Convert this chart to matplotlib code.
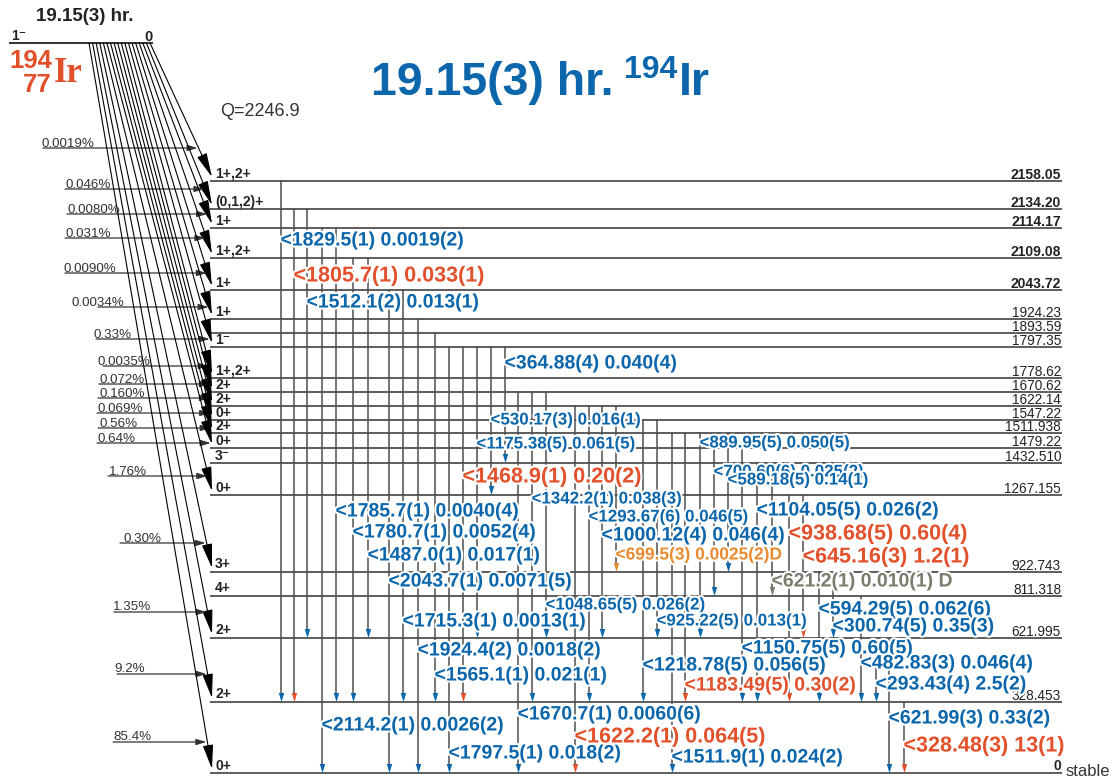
import matplotlib
matplotlib.use("Agg")
import matplotlib.pyplot as plt
import matplotlib.patheffects as pe
from matplotlib.path import Path
import numpy as np

plt.rcParams['font.family'] = ['Liberation Sans', 'DejaVu Sans']

# ---------------- data ----------------
level_energy = [2158.05, 2134.20, 2114.17, 2109.08, 2043.72, 1924.23, 1893.59, 1797.35,
                1778.62, 1670.62, 1622.14, 1547.22, 1511.938, 1479.22, 1432.510, 1267.155,
                922.743, 811.318, 621.995, 328.453, 0.0]
level_text = ["2158.05", "2134.20", "2114.17", "2109.08", "2043.72", "1924.23", "1893.59", "1797.35",
              "1778.62", "1670.62", "1622.14", "1547.22", "1511.938", "1479.22", "1432.510", "1267.155",
              "922.743", "811.318", "621.995", "328.453", "0"]
level_spin = ["1+,2+", "(0,1,2)+", "1+", "1+,2+", "1+", "1+", "", "1\u207b",
              "1+,2+", "2+", "2+", "0+", "2+", "0+", "3\u207b", "0+",
              "3+", "4+", "2+", "2+", "0+"]

beta_level = [2158.05, 2134.20, 2114.17, 2109.08, 2043.72, 1924.23, 1797.35, 1778.62, 1670.62,
              1622.14, 1547.22, 1511.938, 1479.22, 1267.155, 922.743, 621.995, 328.453, 0.0]
beta_text = ["0.0019%", "0.046%", "0.0080%", "0.031%", "0.0090%", "0.0034%", "0.33%", "0.0035%",
             "0.072%", "0.160%", "0.069%", "0.56%", "0.64%", "1.76%", "0.30%", "1.35%", "9.2%", "85.4%"]

gamma_text = ["1829.5(1) 0.0019(2)", "1805.7(1) 0.033(1)", "1512.1(2) 0.013(1)", "2114.2(1) 0.0026(2)",
              "1785.7(1) 0.0040(4)", "1780.7(1) 0.0052(4)", "1487.0(1) 0.017(1)", "2043.7(1) 0.0071(5)",
              "1715.3(1) 0.0013(1)", "1924.4(2) 0.0018(2)", "1565.1(1) 0.021(1)", "1797.5(1) 0.018(2)",
              "1468.9(1) 0.20(2)", "1175.38(5) 0.061(5)", "530.17(3) 0.016(1)", "364.88(4) 0.040(4)",
              "1670.7(1) 0.0060(6)", "1342.2(1) 0.038(3)", "1048.65(5) 0.026(2)", "1622.2(1) 0.064(5)",
              "1293.67(6) 0.046(5)", "1000.12(4) 0.046(4)", "699.5(3) 0.0025(2)D", "1218.78(5) 0.056(5)",
              "925.22(5) 0.013(1)", "1511.9(1) 0.024(2)", "1183.49(5) 0.30(2)", "889.95(5) 0.050(5)",
              "700.60(6) 0.025(2)", "589.18(5) 0.14(1)", "1150.75(5) 0.60(5)", "1104.05(5) 0.026(2)",
              "621.2(1) 0.010(1) D", "938.68(5) 0.60(4)", "645.16(3) 1.2(1)", "594.29(5) 0.062(6)",
              "300.74(5) 0.35(3)", "482.83(3) 0.046(4)", "293.43(4) 2.5(2)", "621.99(3) 0.33(2)",
              "328.48(3) 13(1)"]
gamma_from = [2158.05, 2134.20, 2134.20, 2114.17, 2114.17, 2109.08, 2109.08, 2043.72, 2043.72, 1924.23,
              1893.59, 1797.35, 1797.35, 1797.35, 1797.35, 1797.35, 1670.62, 1670.62, 1670.62, 1622.14,
              1622.14, 1622.14, 1622.14, 1547.22, 1547.22, 1511.938, 1511.938, 1511.938, 1511.938, 1511.938,
              1479.22, 1432.510, 1432.510, 1267.155, 1267.155, 922.743, 922.743, 811.318, 621.995, 621.995,
              328.453]
gamma_to = [328.453, 328.453, 621.995, 0.0, 328.453, 328.453, 621.995, 0.0, 328.453, 0.0,
            328.453, 0.0, 328.453, 621.995, 1267.155, 1432.510, 0.0, 328.453, 621.995, 0.0,
            328.453, 621.995, 922.743, 328.453, 621.995, 0.0, 328.453, 621.995, 811.318, 922.743,
            328.453, 328.453, 811.318, 328.453, 621.995, 328.453, 621.995, 328.453, 328.453, 0.0,
            0.0]
gamma_class = ["b", "r", "b", "b", "b", "b", "b", "b", "b", "b",
               "b", "b", "r", "b", "b", "b", "b", "b", "b", "r",
               "b", "b", "o", "b", "b", "b", "r", "b", "b", "b",
               "b", "b", "g", "r", "r", "b", "b", "b", "b", "b",
               "r"]

# ---------------- layout (pixels) ----------------
W, H = 1119, 784
level_y = [181, 209, 228, 258, 290, 319, 333, 347, 378, 392, 406, 420, 433, 448, 463, 495,
           572, 596, 638, 702, 773]
bold_levels = {"2158.05", "2134.20", "2114.17", "2109.08", "2043.72", "0"}
beta_y = [148, 189, 214, 238, 273, 307, 339, 366, 384, 398, 413, 428, 443, 476, 543, 612, 674, 742]
beta_line_x0 = [43, 65, 67, 65, 65, 98, 96, 103, 99, 98, 97, 98, 97, 108, 120, 114, 117, 113]
beta_text_x0 = [42, 66, 68, 66, 64, 72, 93, 98, 99, 99, 98, 99, 98, 109, 123, 113, 114, 113]
gamma_x = [281, 294, 307, 322, 336, 353, 368, 389, 403, 418, 435, 449, 463, 477, 491, 505,
           518, 532, 546, 575, 589, 602, 616, 643, 657, 672, 685, 700, 714, 728, 742, 757,
           772, 789, 803, 819, 833, 861, 876, 889, 904]
gamma_label_y = [241, 276, 303, 726, 512, 533, 556, 582, 622, 651, 676, 754, 477, 444, 420, 364,
                 715, 499, 605, 737, 517, 536, 555, 666, 621, 758, 686, 443, 472, 480, 649, 511,
                 582, 534, 557, 610, 627, 664, 685, 719, 746]
gamma_size = [14, 15.5, 14, 14, 14, 14, 14, 14, 14, 14, 14, 14, 15.5, 12.2, 12.2, 14,
              14, 12.2, 12.2, 15.5, 12.2, 14, 12.5, 14, 12.2, 14, 14, 12.2, 12.2, 12.2, 14, 14,
              14, 15.5, 15.5, 14, 14, 14, 14, 14, 15.5]
colors = {"b": "#0b66ab", "r": "#e2512b", "o": "#e88a2e", "g": "#7c7b6c"}

ymap = dict(zip(level_energy, level_y))

fig = plt.figure(figsize=(W / 100, H / 100), dpi=100)
ax = fig.add_axes([0, 0, 1, 1])
ax.set_xlim(0, W)
ax.set_ylim(H, 0)
ax.axis('off')
renderer = fig.canvas.get_renderer()


def right_edge(t):
    bb = t.get_window_extent(renderer)
    return ax.transData.inverted().transform((bb.x1, bb.y0))[0]


line_col = "#505050"
halo = [pe.withStroke(linewidth=3, foreground='white')]

# parent level
ax.plot([9, 153], [43, 43], color="#333333", lw=1.4, solid_capstyle='butt')
ax.text(85, 16, "19.15(3) hr.", fontsize=13.5, fontweight='bold', color="#222222",
        ha='center', va='center')
ax.text(11, 40, "1\u207b", fontsize=10, fontweight='bold', color="#222222", ha='left', va='baseline')
ax.text(153, 41, "0", fontsize=10.5, fontweight='bold', color="#222222", ha='right', va='baseline')

# nuclide symbol
red = "#e2512b"
ax.text(52, 68, "194", fontsize=18.5, fontweight='bold', color=red, ha='right', va='baseline')
ax.text(52, 91.5, "77", fontsize=18.5, fontweight='bold', color=red, ha='right', va='baseline')
ax.text(54, 82, "Ir", fontsize=25, fontweight='bold', color=red, ha='left', va='baseline',
        family=['Liberation Serif', 'DejaVu Serif'])

# title
blue = colors["b"]
t1 = ax.text(371, 95, "19.15(3) hr.", fontsize=33.5, fontweight='bold', color=blue,
             ha='left', va='baseline')
x2 = right_edge(t1) + 10
t2 = ax.text(x2, 78, "194", fontsize=23, fontweight='bold', color=blue, ha='left', va='baseline')
x3 = right_edge(t2) + 2
ax.text(x3, 95, "Ir", fontsize=33.5, fontweight='bold', color=blue, ha='left', va='baseline')

ax.text(220, 111, "Q=2246.9", fontsize=13, color="#333333", ha='left', va='center')

# levels
for e, y, lab, spin in zip(level_energy, level_y, level_text, level_spin):
    ax.plot([210, 1062], [y, y], color=line_col, lw=1.3, solid_capstyle='butt', zorder=2)
    bold = lab in bold_levels
    ax.text(1061, y - 2.5, lab, fontsize=10 if bold else 9.8,
            fontweight='bold' if bold else 'normal', color="#222222",
            ha='right', va='baseline', zorder=5)
    if spin:
        ax.text(215, y - 3.5, spin, fontsize=10, fontweight='bold', color="#222222",
                ha='left', va='baseline', zorder=5)
ax.text(1066, 772, "stable", fontsize=12, color="#333333", ha='left', va='center')

# beta feeding arrows
n = len(beta_level)
start_x = np.linspace(150, 89, n)
for i, (e, pct) in enumerate(zip(beta_level, beta_text)):
    ly = ymap[e]
    x1, y1 = 212, ly - 4
    x0, y0 = start_x[i], 43
    ax.annotate('', xy=(x1, y1), xytext=(x0, y0),
                arrowprops=dict(arrowstyle='-|>,head_length=1.5,head_width=0.32',
                                color='black', lw=0.8, mutation_scale=10,
                                shrinkA=0, shrinkB=0), zorder=3)
    by = beta_y[i]
    xi = x0 + (by - y0) / (y1 - y0) * (x1 - x0)
    ax.annotate('', xy=(xi - 1, by), xytext=(beta_line_x0[i], by),
                arrowprops=dict(arrowstyle='-|>,head_length=0.6,head_width=0.18',
                                color='#333333', lw=0.9, mutation_scale=10,
                                shrinkA=0, shrinkB=0), zorder=3)
    ax.text(beta_text_x0[i], by - 1.5, pct, fontsize=9.6, color="#333333",
            ha='left', va='baseline', zorder=4)

# gamma transitions
tri = Path([(-0.3, 0.5), (0.3, 0.5), (0, -0.5), (-0.3, 0.5)],
           [Path.MOVETO, Path.LINETO, Path.LINETO, Path.CLOSEPOLY])
for txt, ef, et, cl, x, lyl, fs in zip(gamma_text, gamma_from, gamma_to, gamma_class,
                                       gamma_x, gamma_label_y, gamma_size):
    yt, yb = ymap[ef], ymap[et]
    c = colors[cl]
    ax.plot([x, x], [yt, yb - 6], color=line_col, lw=1.1, zorder=1)
    ax.plot([x], [yb - 5], marker=tri, markersize=6.5, color=c, markeredgewidth=0, zorder=3)
    ax.text(x - 0.5, lyl, "<" + txt, fontsize=fs, fontweight='bold', color=c,
            ha='left', va='center', zorder=6, path_effects=halo)

fig.savefig("out.png", dpi=100)
